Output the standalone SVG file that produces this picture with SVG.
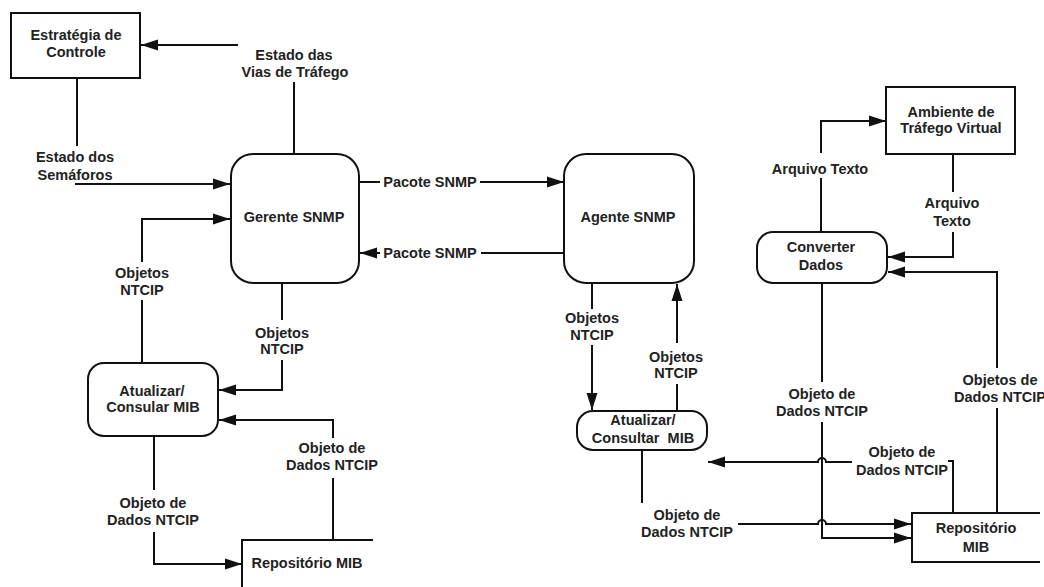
<svg xmlns="http://www.w3.org/2000/svg" width="1044" height="587" viewBox="0 0 1044 587">
  <style>
    .box { fill: #fff; stroke: #111; stroke-width: 2; }
    .ln { fill: none; stroke: #111; stroke-width: 2; }
    .arr { fill: none; stroke: #111; stroke-width: 2; marker-end: url(#head); }
    text { font-family: "Liberation Sans", Arial, sans-serif; font-size: 14.5px; font-weight: bold; fill: #222; text-anchor: middle; white-space: pre; }
  </style>
  <defs>
    <marker id="head" markerUnits="userSpaceOnUse" markerWidth="18" markerHeight="12" refX="17" refY="6" orient="auto">
      <path d="M0,0.5 L17,6 L0,11.5 z" fill="#111"/>
    </marker>
  </defs>
  <rect width="1044" height="587" fill="#fff"/>

  <!-- connectors -->
  <g id="connectors">
    <!-- Estado das Vias de Tráfego -->
    <path class="ln" d="M294,154 V82"/>
    <path class="arr" d="M238,45 H141"/>
    <!-- Estado dos Semáforos -->
    <path class="ln" d="M77,78 V146"/>
    <path class="arr" d="M75,184 H230"/>
    <!-- Pacote SNMP (to agent) -->
    <path class="ln" d="M359,182 H380"/>
    <path class="arr" d="M480,182 H564"/>
    <!-- Pacote SNMP (to manager) -->
    <path class="ln" d="M564,253 H481"/>
    <path class="arr" d="M380,253 H360"/>
    <!-- Objetos NTCIP: MIB update -> manager -->
    <path class="ln" d="M142,363 V300"/>
    <path class="arr" d="M142,262 V219 H230"/>
    <!-- Objetos NTCIP: manager -> MIB update -->
    <path class="ln" d="M282,283 V320"/>
    <path class="arr" d="M282,360 V390 H219"/>
    <!-- Objeto de Dados NTCIP: repository -> MIB update -->
    <path class="ln" d="M333,540 V478"/>
    <path class="arr" d="M333,438 V420 H219"/>
    <!-- Objeto de Dados NTCIP: MIB update -> repository -->
    <path class="ln" d="M154,436 V490"/>
    <path class="arr" d="M154,532 V564 H242"/>
    <!-- Objetos NTCIP: agent -> MIB -->
    <path class="ln" d="M592,283 V309"/>
    <path class="arr" d="M592,345 V410"/>
    <!-- Objetos NTCIP: MIB -> agent -->
    <path class="ln" d="M677,411 V384"/>
    <path class="arr" d="M677,343 V284"/>
    <!-- right MIB -> repository -->
    <path class="ln" d="M642,450 V503"/>
    <path class="arr" d="M738,524 H818 A4,4 0 0 1 826,524 H911"/>
    <!-- Converter Dados -> repository -->
    <path class="ln" d="M822,283 V382"/>
    <path class="arr" d="M822,422 V538 H911"/>
    <!-- repository -> right MIB -->
    <path class="ln" d="M953,513 V461 H948"/>
    <path class="arr" d="M852,462 H826 A4,4 0 0 0 818,462 H708"/>
    <!-- repository -> Converter Dados -->
    <path class="ln" d="M997,513 V408"/>
    <path class="arr" d="M997,368 V272 H888"/>
    <!-- Converter Dados -> Ambiente -->
    <path class="ln" d="M821,232 V178"/>
    <path class="arr" d="M821,153 V121 H886"/>
    <!-- Ambiente -> Converter Dados -->
    <path class="ln" d="M953,154 V192"/>
    <path class="arr" d="M953,232 V257 H888"/>

    <!-- labels -->
    <text x="294" y="60">Estado das</text>
    <text x="295" y="77">Vias de Tráfego</text>
    <text x="75" y="162">Estado dos</text>
    <text x="75" y="180">Semáforos</text>
    <text x="430" y="187">Pacote SNMP</text>
    <text x="430" y="258">Pacote SNMP</text>
    <text x="142" y="278">Objetos</text>
    <text x="142" y="295">NTCIP</text>
    <text x="282" y="338">Objetos</text>
    <text x="282" y="354">NTCIP</text>
    <text x="332" y="453">Objeto de</text>
    <text x="332" y="470">Dados NTCIP</text>
    <text x="153" y="508">Objeto de</text>
    <text x="153" y="525">Dados NTCIP</text>
    <text x="592" y="323">Objetos</text>
    <text x="592" y="340">NTCIP</text>
    <text x="676" y="362">Objetos</text>
    <text x="676" y="378">NTCIP</text>
    <text x="687" y="520">Objeto de</text>
    <text x="687" y="537">Dados NTCIP</text>
    <text x="902" y="457">Objeto de</text>
    <text x="902" y="475">Dados NTCIP</text>
    <text x="1000" y="385">Objetos de</text>
    <text x="1000" y="402">Dados NTCIP</text>
    <text x="822" y="399">Objeto de</text>
    <text x="822" y="416">Dados NTCIP</text>
    <text x="820" y="174">Arquivo Texto</text>
    <text x="952" y="208">Arquivo</text>
    <text x="952" y="226">Texto</text>
  </g>

  <g id="estrategia-controle">
    <rect class="box" x="11" y="13" width="129" height="65"/>
    <text x="76" y="40">Estratégia de</text>
    <text x="76" y="57">Controle</text>
  </g>

  <g id="gerente-snmp">
    <rect class="box" x="231" y="154" width="128" height="129" rx="22"/>
    <text x="294" y="222">Gerente SNMP</text>
  </g>

  <g id="agente-snmp">
    <rect class="box" x="564" y="154" width="130" height="129" rx="22"/>
    <text x="628" y="222">Agente SNMP</text>
  </g>

  <g id="atualizar-mib-gerente">
    <rect class="box" x="88" y="363" width="130" height="73" rx="16"/>
    <text x="152" y="396">Atualizar/</text>
    <text x="153" y="412">Consular MIB</text>
  </g>

  <g id="repositorio-mib-gerente">
    <path class="ln" d="M373,540 H242 V587"/>
    <text x="307" y="568">Repositório MIB</text>
  </g>

  <g id="atualizar-mib-agente">
    <rect class="box" x="577" y="411" width="130" height="39" rx="16"/>
    <text x="643" y="425">Atualizar/</text>
    <text x="643" y="443">Consultar  MIB</text>
  </g>

  <g id="converter-dados">
    <rect class="box" x="757" y="232" width="130" height="51" rx="16"/>
    <text x="821" y="252">Converter</text>
    <text x="821" y="270">Dados</text>
  </g>

  <g id="ambiente-trafego">
    <rect class="box" x="886" y="87" width="129" height="67"/>
    <text x="951" y="117">Ambiente de</text>
    <text x="951" y="133">Tráfego Virtual</text>
  </g>

  <g id="repositorio-mib-agente">
    <path class="ln" d="M1040,513 H912 V562 H1040"/>
    <text x="976" y="533">Repositório</text>
    <text x="976" y="552">MIB</text>
  </g>
</svg>
